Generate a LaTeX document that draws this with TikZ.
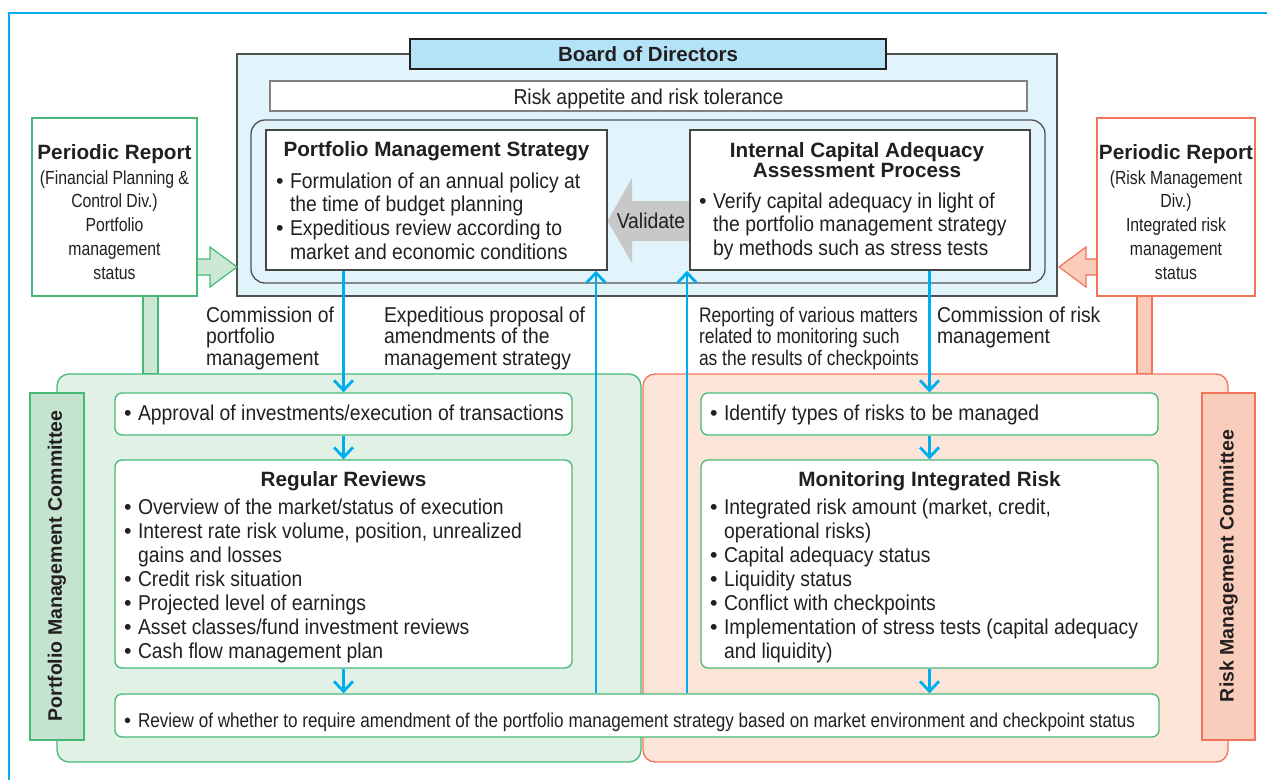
\documentclass[tikz,border=0pt]{standalone}
\usepackage{fontspec}
\setmainfont{Liberation Sans}[FakeStretch=0.9]
\newfontfamily\hb{Liberation Sans}
\newfontfamily\cnd{Liberation Sans}[FakeStretch=0.83]
\newfontfamily\rvf{Liberation Sans}[FakeStretch=0.855]
\usetikzlibrary{arrows.meta}
\definecolor{ink}{RGB}{35,31,32}
\definecolor{cyanc}{RGB}{0,174,239}
\definecolor{bodf}{RGB}{225,243,251}
\definecolor{bodl}{RGB}{180,226,247}
\definecolor{bodb}{RGB}{80,80,80}
\definecolor{rag}{RGB}{130,130,130}
\definecolor{pmsb}{RGB}{70,70,70}
\definecolor{valg}{RGB}{200,200,200}
\definecolor{grnL}{RGB}{70,185,120}
\definecolor{grnF}{RGB}{225,241,230}
\definecolor{grnM}{RGB}{196,228,207}
\definecolor{grnA}{RGB}{204,232,213}
\definecolor{salL}{RGB}{240,115,90}
\definecolor{salF}{RGB}{252,228,217}
\definecolor{salM}{RGB}{249,205,187}
\definecolor{salA}{RGB}{251,204,185}
\newcommand\myb{\makebox[14pt][l]{\hb\textbullet}}
\newcommand\myi{\hspace*{14pt}}
\begin{document}
\begin{tikzpicture}[x=1pt,y=-1pt,
  txt/.style={inner sep=0pt, outer sep=0pt, text=ink, align=left, anchor=base west, font=\fontsize{21.5}{23.8}\selectfont},
  lbl/.style={txt, font=\fontsize{21.5}{21.5}\selectfont},
  ttl/.style={inner sep=0pt, outer sep=0pt, text=ink, align=center, anchor=base, font=\hb\bfseries\fontsize{20.7}{20.2}\selectfont},
  subt/.style={inner sep=0pt, outer sep=0pt, text=ink, align=center, anchor=base, font=\cnd\fontsize{19}{23.9}\selectfont},
  plain/.style={inner sep=0pt},
  gbox/.style={draw=grnL, line width=1.3pt, fill=white, rounded corners=7pt, inner sep=0pt},
  carrow/.style={draw=cyanc, line width=2.8pt, -{Straight Barb[length=10pt,width=19pt]}},
  comm/.style={rotate=90, inner sep=0pt, text=ink, font=\hb\bfseries\fontsize{19.5}{19.5}\selectfont},
]
\fill[white] (0,0) rectangle (1267,780);
\useasboundingbox (0,0) rectangle (1267,780);
\draw[cyanc, line width=1.6pt] (9,780) -- (9,13) -- (1267,13);

% Board of Directors
\node[plain, draw=bodb, line width=1.3pt, fill=bodf, minimum width=820pt, minimum height=242pt] (bod) at (647,175) {};
\node[plain, draw=rag, line width=1.5pt, fill=white, minimum width=757pt, minimum height=30pt] (ra) at (648.5,96) {};
\node[plain, draw=bodb, line width=1.3pt, fill=bodf, rounded corners=14pt, minimum width=794pt, minimum height=163pt] (inner) at (648,201.5) {};
\node[plain, draw=ink, line width=1.3pt, fill=bodl, minimum width=476pt, minimum height=30pt] (bodlab) at (648,54) {};

% Validate arrow
\fill[valg] (607.5,221) -- (632,178) -- (632,201) -- (690,201) -- (690,241) -- (632,241) -- (632,263) -- cycle;
\node[plain, draw=pmsb, line width=1.5pt, fill=white, minimum width=341pt, minimum height=140pt] (pms) at (436.5,200) {};
\node[plain, draw=pmsb, line width=1.5pt, fill=white, minimum width=340pt, minimum height=140pt] (icaap) at (860,200) {};

% side reports
\filldraw[draw=grnL, fill=grnA, line width=1.2pt] (143,296) rectangle (158,374);
\filldraw[draw=salL, fill=salA, line width=1.2pt] (1137,296) rectangle (1152,374);
\filldraw[draw=grnL, fill=grnA, line width=1.2pt] (197,259) -- (210,259) -- (210,247) -- (237,267) -- (210,287) -- (210,275) -- (197,275) -- cycle;
\filldraw[draw=salL, fill=salA, line width=1.2pt] (1097,259) -- (1086,259) -- (1086,247) -- (1059,267) -- (1086,287) -- (1086,275) -- (1097,275) -- cycle;
\node[plain, draw=grnL, line width=1.2pt, fill=white, minimum width=165pt, minimum height=178pt] (lpr) at (114.5,207) {};
\node[plain, draw=salL, line width=1.2pt, fill=white, minimum width=158pt, minimum height=178pt] (rpr) at (1176,207) {};

% committees
\node[plain, draw=grnL, line width=1.3pt, fill=grnF, rounded corners=12pt, minimum width=584pt, minimum height=388pt] (pmc) at (349,568) {};
\node[plain, draw=salL, line width=1.3pt, fill=salF, rounded corners=12pt, minimum width=585pt, minimum height=388pt] (rmc) at (935.5,568) {};
\node[plain, draw=grnL, line width=1.3pt, fill=grnM, minimum width=54pt, minimum height=347pt] (pmcl) at (57,566.5) {};
\node[plain, draw=salL, line width=1.3pt, fill=salM, minimum width=53pt, minimum height=347pt] (rmcl) at (1228.5,566.5) {};
\node[comm] (pmct) at (57,566) {Portfolio Management Committee};
\node[comm] (rmct) at (1228.5,566) {Risk Management Committee};

% inner boxes
\node[gbox, minimum width=457pt, minimum height=42pt] (appr) at (343.5,414) {};
\node[gbox, minimum width=457pt, minimum height=208pt] (regr) at (343.5,564) {};
\node[gbox, minimum width=457pt, minimum height=42pt] (iden) at (929.5,414) {};
\node[gbox, minimum width=457pt, minimum height=208pt] (moni) at (929.5,564) {};
\node[gbox, minimum width=1044pt, minimum height=43pt] (revw) at (637,715.5) {};

% connectors
\coordinate (upL) at (596,0);
\coordinate (upR) at (687,0);
\draw[carrow] (pms.south -| appr.north) -- (appr.north);
\draw[carrow] (appr.south) -- (regr.north);
\draw[carrow] (regr.south) -- (regr.south |- revw.north);
\draw[carrow] (revw.north -| upL) -- (pms.south -| upL);
\draw[carrow] (revw.north -| upR) -- (icaap.south -| upR);
\draw[carrow] (icaap.south -| iden.north) -- (iden.north);
\draw[carrow] (iden.south) -- (moni.north);
\draw[carrow] (moni.south) -- (moni.south |- revw.north);

% texts (multi-line nodes are anchored at the baseline of their last line)
\node[ttl, font=\hb\bfseries\fontsize{20.5}{20.5}\selectfont] (bodt) at (648,61.5) {Board of Directors};
\node[txt, anchor=base] (rat) at (648.5,104) {Risk appetite and risk tolerance};
\node[ttl] (pmst) at (436.5,156) {Portfolio Management Strategy};
\node[txt] (pmsb) at (276,259.4) {\myb Formulation of an annual policy at\\\myi the time of budget planning\\\myb Expeditious review according to\\\myi market and economic conditions};
\node[ttl] (ict) at (857,177.2) {Internal Capital Adequacy\\Assessment Process};
\node[txt] (icb) at (699,255.6) {\myb Verify capital adequacy in light of\\\myi the portfolio management strategy\\\myi by methods such as stress tests};
\node[txt, anchor=base] (valt) at (651,228) {Validate};

\node[ttl] (lprt) at (114.5,159) {Periodic Report};
\node[subt] (lprb) at (114.5,279.6) {(Financial Planning \&\\Control Div.)\\Portfolio\\management\\status};
\node[ttl] (rprt) at (1176,159) {Periodic Report};
\node[subt] (rprb) at (1176,279.6) {(Risk Management\\Div.)\\Integrated risk\\management\\status};

\node[lbl] (l1) at (206,365) {Commission of\\portfolio\\management};
\node[lbl] (l2) at (384,365) {Expeditious proposal of\\amendments of the\\management strategy};
\node[lbl, font=\cnd\fontsize{21}{21.5}\selectfont] (l3) at (699,365) {Reporting of various matters\\related to monitoring such\\as the results of checkpoints};
\node[lbl] (l4) at (937,343.5) {Commission of risk\\management};

\node[txt] (apprt) at (124,420) {\myb Approval of investments/execution of transactions};
\node[ttl] (regt) at (343.5,486) {Regular Reviews};
\node[txt, font=\fontsize{21.5}{24.1}\selectfont] (regb) at (124,658.6) {\myb Overview of the market/status of execution\\\myb Interest rate risk volume, position, unrealized\\\myi gains and losses\\\myb Credit risk situation\\\myb Projected level of earnings\\\myb Asset classes/fund investment reviews\\\myb Cash flow management plan};

\node[txt] (ident) at (710,420) {\myb Identify types of risks to be managed};
\node[ttl] (monit) at (929.5,486) {Monitoring Integrated Risk};
\node[txt, font=\fontsize{21.5}{24.1}\selectfont] (monib) at (710,658.6) {\myb Integrated risk amount (market, credit,\\\myi operational risks)\\\myb Capital adequacy status\\\myb Liquidity status\\\myb Conflict with checkpoints\\\myb Implementation of stress tests (capital adequacy\\\myi and liquidity)};

\node[txt, font=\rvf\fontsize{20}{20}\selectfont] (revt) at (124,727) {\makebox[14pt][l]{\hb\textbullet}Review of whether to require amendment of the portfolio management strategy based on market environment and checkpoint status};
\end{tikzpicture}
\end{document}
